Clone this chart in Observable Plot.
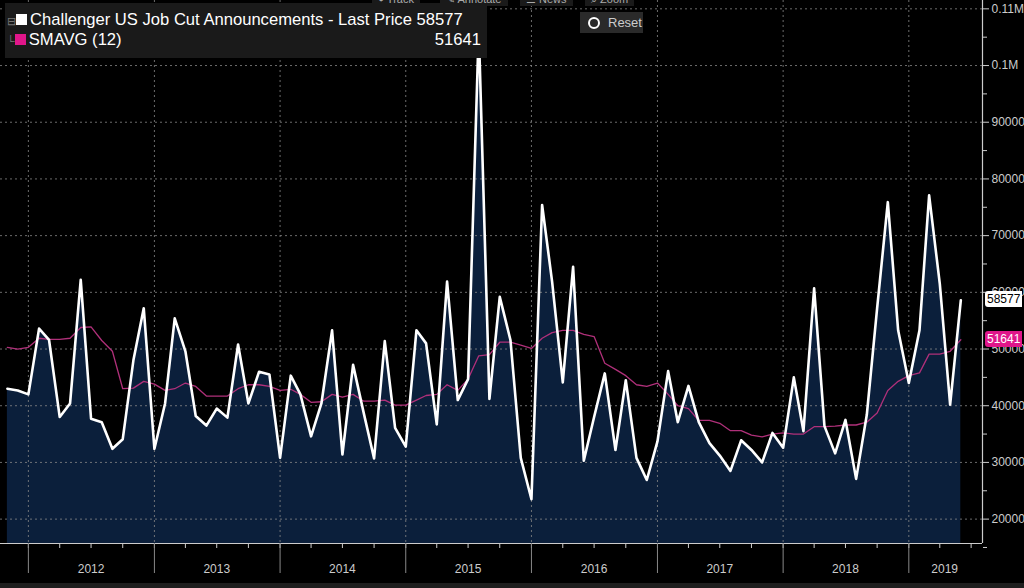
<!DOCTYPE html>
<html><head><meta charset="utf-8">
<script src="https://cdn.jsdelivr.net/npm/d3@7"></script>
<script src="https://cdn.jsdelivr.net/npm/@observablehq/plot@0.6"></script>
<style>
body{margin:0;background:#000;overflow:hidden;font-family:"Liberation Sans",Arial,sans-serif}
#wrap{position:relative;width:1024px;height:588px}
.leg{position:absolute;left:5px;top:3px;width:482px;height:55px;background:#1a1a1a;color:#fff;font-size:16.6px}
.leg div{position:absolute;left:16px;white-space:nowrap}
.sq{display:inline-block;width:11px;height:11px;margin-right:3px;vertical-align:0px}
.tb{position:absolute;top:-9px;color:#aaa;font-size:12px;background:#1a1a1a;padding:0 6px}
.reset{position:absolute;left:580px;top:12px;width:63px;height:21px;background:#2a2a2a;color:#ccc;font-size:13px;line-height:21px}
.tag{position:absolute;left:985px;height:16px;line-height:16px;font-size:12px;padding:0 2px}
</style></head><body>
<div id="wrap"></div>
<script>
const startMonth = "2011-11-01";
const jobCuts = [43000,42700,42000,53600,51600,38000,40400,62200,37700,37100,32400,34100,48000,57200,32400,40400,55400,49600,38200,36500,39500,37900,50800,40400,46000,45500,30800,45300,42000,34600,40400,53300,31400,47200,38700,30700,51400,36100,32800,53300,51000,36700,61900,41000,44700,106500,41200,59200,51600,30800,
23500,75400,61900,44100,64500,30300,38000,45700,32200,44500,30800,26900,33700,46100,37100,43500,37100,33400,31200,28500,33900,32200,30000,35200,32600,45000,35500,60700,36400,31600,37500,27100,38400,57200,75900,53300,44000,53300,77100,61500,40200,58577];
const smavg = [50300,50000,50300,51900,51700,51700,51900,53800,53900,51500,49600,43000,43100,44300,43800,42700,43000,44000,43400,41700,41700,41700,43000,43700,43700,43400,42700,42900,42000,40600,40700,42000,41500,42000,40800,40800,41000,40100,40100,41000,41800,42000,43700,42700,44700,48800,49000,51200,51200,
50700,50100,51900,52900,53300,53300,52600,52200,47500,46400,45300,43700,43400,44000,42000,40000,39500,37400,37400,36900,35600,35600,34800,34500,35000,35200,35000,35000,36300,36300,36400,36600,36600,37100,38700,42700,44300,45300,45800,49100,49100,49600,51641];
const years = [2012,2013,2014,2015,2016,2017,2018,2019];
const yTicks = [20000,30000,40000,50000,60000,70000,80000,90000,100000,110000];
const yMinor = [15000,25000,35000,45000,55000,65000,75000,85000,95000,105000];
const yLabel = v => v===110000?"0.11M":v===100000?"0.1M":String(v);

const months = d3.utcMonth.range(new Date(startMonth), new Date("2019-07-01"));
const data = jobCuts.map((v,i)=>({date:months[i], v, s:smavg[i]}));
const xDomain = [new Date("2011-10-12"), new Date("2019-08-03")];
const yDomain = [15700, 111470];
const yearStarts = years.map(y=>new Date(Date.UTC(y,0,1)));
const yearMids = years.map(y=>y===2019 ? new Date(Date.UTC(y,3,15)) : new Date(Date.UTC(y,6,1)));
const quarters = d3.utcMonth.every(3).range(new Date("2012-01-01"), xDomain[1]);

const chart = Plot.plot({
  width:1024, height:588, marginLeft:0, marginRight:42, marginTop:0, marginBottom:45,
  style:{background:"#000", color:"#ccc", fontFamily:"Liberation Sans, Arial, sans-serif"},
  x:{type:"utc", domain:xDomain},
  y:{domain:yDomain},
  marks:[
    Plot.areaY(data,{x:"date", y1:yDomain[0], y2:"v", fill:"#0b1f3b", clip:true}),
    Plot.ruleY(yTicks,{stroke:"#888", strokeDasharray:"2,3", strokeWidth:0.8}),
    Plot.ruleX(yearStarts,{stroke:"#888", strokeDasharray:"2,3", strokeWidth:0.8}),
    Plot.lineY(data,{x:"date", y:"s", stroke:"#b0307a", strokeWidth:1.3, clip:true}),
    Plot.lineY(data,{x:"date", y:"v", stroke:"#fff", strokeWidth:2.6, clip:true}),
    Plot.axisY({anchor:"right", ticks:yTicks, tickFormat:yLabel, tickSize:6, fontSize:12, fill:"#ccc", stroke:"#ccc"}),
    Plot.axisY({anchor:"right", ticks:yMinor, tickFormat:()=>"", tickSize:4, stroke:"#ccc"}),
    Plot.ruleX([xDomain[1]],{stroke:"#ccc", strokeWidth:1.2}),
    Plot.ruleY([yDomain[0]],{stroke:"#ccc", strokeWidth:1.2}),
    Plot.axisX({ticks:quarters, tickFormat:()=>"", tickSize:5, stroke:"#ccc"}),
    Plot.axisX({ticks:yearStarts, tickFormat:()=>"", tickSize:30, stroke:"#888"}),
    Plot.text(yearMids,{x:d=>d, frameAnchor:"bottom", dy:29, text:d=>String(d.getUTCFullYear()), fill:"#ccc", fontSize:12, clip:false})
  ]
});
const wrap = document.getElementById("wrap");
wrap.appendChild(chart);
wrap.insertAdjacentHTML("beforeend", `
<div style="position:absolute;left:0;top:583px;width:1024px;height:5px;background:#1e1e1e"></div>
<div class="tb" style="left:372px;top:-7px;font-size:11px">⌖ Track</div>
<div class="tb" style="left:440px;top:-7px;font-size:11px">✎ Annotate</div>
<div class="tb" style="left:520px;top:-7px;font-size:11px">☰ News</div>
<div class="tb" style="left:585px;top:-7px;font-size:11px">⌕ Zoom</div>
<div class="reset"><span style="display:inline-block;width:8px;height:8px;border:2.5px solid #fff;border-radius:50%;margin:0 8px 0 8px;vertical-align:-2px"></span>Reset</div>
<div class="leg">
 <div style="top:7px;left:2px"><span style="color:#777;font-size:11px">⊟</span><span class="sq" style="background:#fff"></span>Challenger US Job Cut Announcements - Last Price 58577</div>
 <div style="top:27px;left:2px"><span style="color:#777;font-size:11px">└</span><span class="sq" style="background:#e0168a"></span>SMAVG (12)</div>
 <div style="top:27px;left:auto;right:6px">51641</div>
</div>
<div class="tag" style="top:291px;background:#fff;color:#000;border-radius:3px 0 0 3px">58577</div>
<div class="tag" style="top:331px;background:#e0168a;color:#fff;border-radius:3px 0 0 3px">51641</div>
`);
</script></body></html>
